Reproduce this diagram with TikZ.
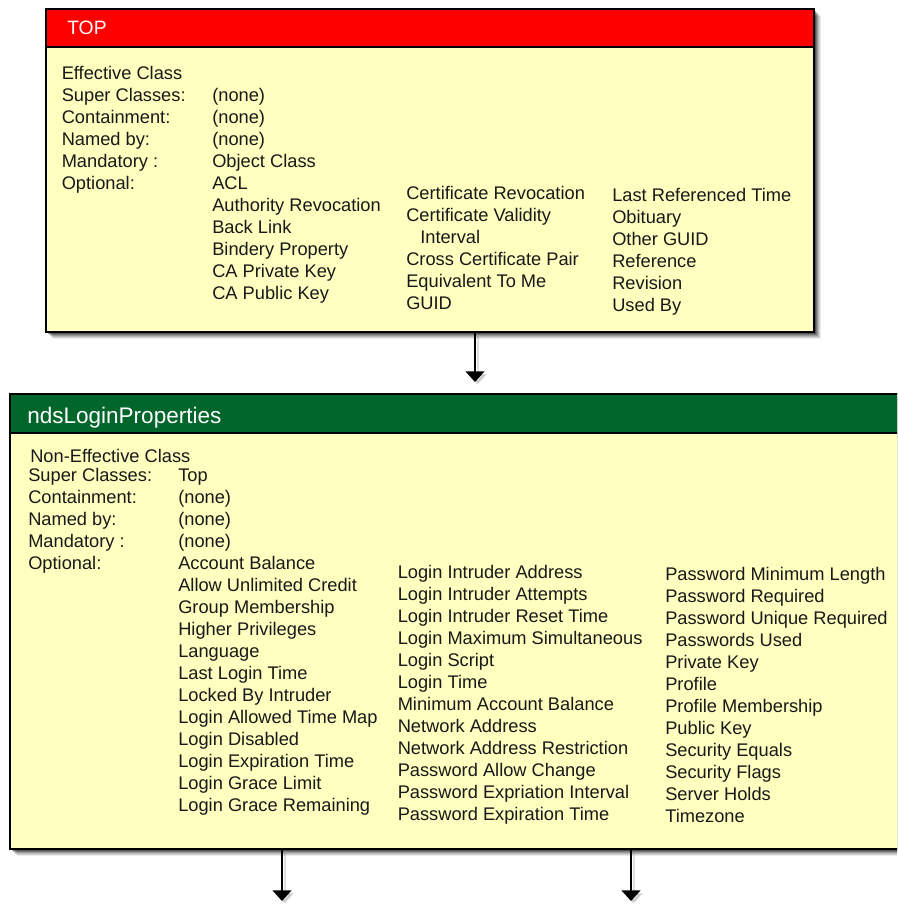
\documentclass[tikz,border=0pt]{standalone}
\usepackage{fontspec}
\setmainfont{Liberation Sans}
\usetikzlibrary{arrows.meta}
\definecolor{hdrred}{RGB}{255,0,0}
\definecolor{hdrgreen}{RGB}{0,102,43}
\definecolor{bodyyel}{RGB}{255,255,192}
\definecolor{txtcol}{RGB}{25,25,25}
\tikzset{
  txt/.style={anchor=base west, inner sep=0pt, text=txtcol, font=\fontsize{13.7pt}{16pt}\selectfont},
  hdrtxt/.style={anchor=base west, inner sep=0pt, text=white},
  classbox/.style={draw=black, line width=1.6pt, fill=bodyyel, anchor=north west, inner sep=0pt},
  hdrbar/.style={draw=black, line width=1.6pt, anchor=north west, inner sep=0pt},
  arr/.style={line width=1.6pt, -{Triangle[width=14pt,length=8pt]}},
  shd/.style={fill=black, draw=none}
}
\begin{document}
\begin{tikzpicture}[x=0.75pt,y=-0.75pt]
\useasboundingbox (0,0) rectangle (897,907);
\clip (0,0) rectangle (897,907);
\fill[white] (0,0) rectangle (897,907);
% ---------- shadows ----------
\foreach \o/\a in {8/0.08,7/0.10,6/0.13,5/0.17,4/0.22,3/0.3}{
  \fill[shd, opacity=\a] (45+\o,8+\o) rectangle (813+\o,331+\o);
  \fill[shd, opacity=\a] (8.5+\o,393+\o) rectangle (920,848+\o);
}
% ---------- TOP box ----------
\node[classbox, minimum width=576pt, minimum height=242.25pt] (topbox) at (45,8) {};
\node[hdrbar, fill=hdrred, minimum width=576pt, minimum height=28.5pt] (tophdr) at (45,8) {};
\node[hdrtxt, font=\fontsize{14.5pt}{17pt}\selectfont] (toptitle) at (67,34) {TOP};
% left labels
\node[txt] (tEff) at (61.5,79) {Effective Class};
\node[txt] (tSup) at (61.5,101) {Super Classes:};
\node[txt] (tCon) at (61.5,123) {Containment:};
\node[txt] (tNam) at (61.5,145) {Named by:};
\node[txt] (tMan) at (61.5,167) {Mandatory :};
\node[txt] (tOpt) at (61.5,189) {Optional:};
\node[txt] (tSupV) at (212,101) {(none)};
\node[txt] (tConV) at (212,123) {(none)};
\node[txt] (tNamV) at (212,145) {(none)};
\node[txt] (tManV) at (212,167) {Object Class};
\foreach \t [count=\i] in {ACL,Authority Revocation,Back Link,Bindery Property,CA Private Key,CA Public Key}
  \node[txt] (tA-\i) at (212,{189+22*(\i-1)}) {\t};
\node[txt] (tB-1) at (406,199) {Certificate Revocation};
\node[txt] (tB-2) at (406,221) {Certificate Validity};
\node[txt] (tB-3) at (420,243) {Interval};
\node[txt] (tB-4) at (406,265) {Cross Certificate Pair};
\node[txt] (tB-5) at (406,287) {Equivalent To Me};
\node[txt] (tB-6) at (406,309) {GUID};
\foreach \t [count=\i] in {Last Referenced Time,Obituary,Other GUID,Reference,Revision,Used By}
  \node[txt] (tC-\i) at (612,{201+22*(\i-1)}) {\t};
% ---------- ndsLoginProperties box ----------
\node[classbox, minimum width=680pt, minimum height=341.25pt] (ndsbox) at (8.5,393) {};
\node[hdrbar, fill=hdrgreen, minimum width=680pt, minimum height=29pt] (ndshdr) at (8.5,393) {};
\node[hdrtxt, font=\fontsize{16.9pt}{19pt}\selectfont] (ndstitle) at (27,423) {ndsLoginProperties};
\node[txt] (nEff) at (30,462) {Non-Effective Class};
\node[txt] (nSup) at (28,481.5) {Super Classes:};
\node[txt] (nCon) at (28,503.5) {Containment:};
\node[txt] (nNam) at (28,525) {Named by:};
\node[txt] (nMan) at (28,547) {Mandatory :};
\node[txt] (nOpt) at (28,569) {Optional:};
\node[txt] (nSupV) at (178,481.5) {Top};
\node[txt] (nConV) at (178,503.5) {(none)};
\node[txt] (nNamV) at (178,525) {(none)};
\node[txt] (nManV) at (178,547) {(none)};
\foreach \t [count=\i] in {Account Balance,Allow Unlimited Credit,Group Membership,Higher Privileges,Language,Last Login Time,Locked By Intruder,Login Allowed Time Map,Login Disabled,Login Expiration Time,Login Grace Limit,Login Grace Remaining}
  \node[txt] (nA-\i) at (178,{569+22*(\i-1)}) {\t};
\foreach \t [count=\i] in {Login Intruder Address,Login Intruder Attempts,Login Intruder Reset Time,Login Maximum Simultaneous,Login Script,Login Time,Minimum Account Balance,Network Address,Network Address Restriction,Password Allow Change,Password Expriation Interval,Password Expiration Time}
  \node[txt] (nB-\i) at (397.5,{578.5+22*(\i-1)}) {\t};
\foreach \t [count=\i] in {Password Minimum Length,Password Required,Password Unique Required,Passwords Used,Private Key,Profile,Profile Membership,Public Key,Security Equals,Security Flags,Server Holds,Timezone}
  \node[txt] (nC-\i) at (665,{580.5+22*(\i-1)}) {\t};
% ---------- connectors ----------
\coordinate (e1) at (475,382);
\coordinate (e2) at (282,901);
\coordinate (e3) at (631,901);
\foreach \e/\b in {e1/topbox,e2/ndsbox,e3/ndsbox}{
  \draw[arr, black, opacity=0.12, transform canvas={shift={(2pt,-2pt)}}] (\b.south -| \e) -- (\e);
  \draw[arr, black] (\b.south -| \e) -- (\e);
}
\end{tikzpicture}
\end{document}
